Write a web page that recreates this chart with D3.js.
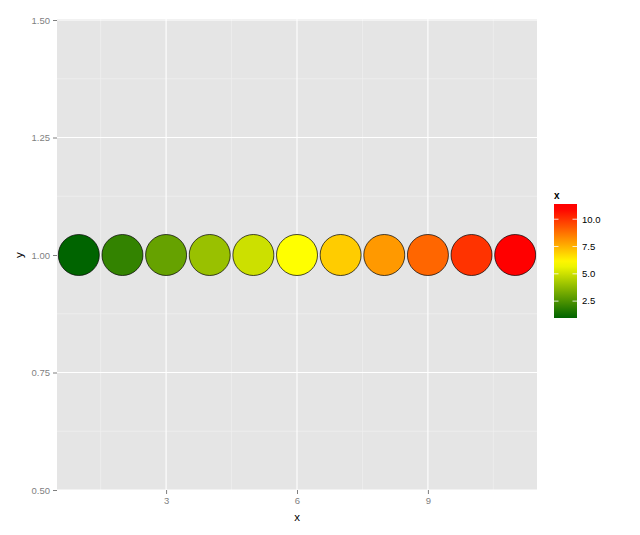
<!DOCTYPE html>
<html><head><meta charset="utf-8">
<script src="https://cdn.jsdelivr.net/npm/d3@7"></script>
<style>body{margin:0;background:#fff;} text{font-family:"Liberation Sans",Arial,sans-serif;}</style>
</head><body>
<svg id="chart" width="640" height="535"></svg>
<script>
const xValues = [1,2,3,4,5,6,7,8,9,10,11];
const yValues = [1,1,1,1,1,1,1,1,1,1,1];
const xTicks = [3,6,9];
const yTicks = [0.50,0.75,1.00,1.25,1.50];
const legendTicks = [2.5,5.0,7.5,10.0];
const gradientStops = [1,6,11];
const gradientColors = ["#006400","#ffff00","#ff0000"];

const svg = d3.select("#chart");
const P = {left:57, right:537, top:20, bottom:490};
const x = d3.scaleLinear().domain([0.5,11.5]).range([P.left,P.right]);
const y = d3.scaleLinear().domain([0.5,1.5]).range([P.bottom,P.top]);
const color = d3.scaleLinear().domain(gradientStops).range(gradientColors).interpolate(d3.interpolateRgb);

svg.append("rect").attr("x",P.left).attr("y",P.top-1).attr("width",P.right-P.left).attr("height",P.bottom-P.top+1).attr("fill","#e5e5e5");

const xMinor = [1.5,4.5,7.5,10.5];
const yMinor = [0.625,0.875,1.125,1.375];
svg.append("g").selectAll("line").data(xMinor).join("line")
  .attr("x1",d=>x(d)).attr("x2",d=>x(d)).attr("y1",P.top-1).attr("y2",P.bottom)
  .attr("stroke","#f2f2f2").attr("stroke-width",0.6);
svg.append("g").selectAll("line").data(yMinor).join("line")
  .attr("y1",d=>y(d)).attr("y2",d=>y(d)).attr("x1",P.left).attr("x2",P.right)
  .attr("stroke","#f2f2f2").attr("stroke-width",0.6);
svg.append("g").selectAll("line").data(xTicks).join("line")
  .attr("x1",d=>x(d)).attr("x2",d=>x(d)).attr("y1",P.top-1).attr("y2",P.bottom)
  .attr("stroke","#ffffff").attr("stroke-width",1.1);
svg.append("g").selectAll("line").data(yTicks).join("line")
  .attr("y1",d=>y(d)).attr("y2",d=>y(d)).attr("x1",P.left).attr("x2",P.right)
  .attr("stroke","#ffffff").attr("stroke-width",1.1);

// axes
const xAxis = d3.axisBottom(x).tickValues(xTicks).tickSize(4).tickPadding(3).tickFormat(d3.format("d"));
const gx = svg.append("g").attr("transform",`translate(0,${P.bottom})`).call(xAxis);
const yAxis = d3.axisLeft(y).tickValues(yTicks).tickSize(4).tickPadding(3).tickFormat(d3.format(".2f"));
const gy = svg.append("g").attr("transform",`translate(${P.left},0)`).call(yAxis);
[gx,gy].forEach(g=>{
  g.select(".domain").remove();
  g.selectAll(".tick line").attr("stroke","#7f7f7f");
  g.selectAll(".tick text").attr("fill","#7f7f7f").style("font-size","9.5px");
});

// points
svg.append("g").selectAll("circle").data(xValues).join("circle")
  .attr("cx",d=>x(d)).attr("cy",(d,i)=>y(yValues[i])).attr("r",20.5)
  .attr("fill",d=>color(d)).attr("stroke","#000").attr("stroke-width",0.7);

// axis titles
svg.append("text").attr("x",(P.left+P.right)/2).attr("y",521).attr("text-anchor","middle")
  .style("font-size","11.5px").attr("fill","#000").text("x");
svg.append("text").attr("transform",`translate(23,${y(1)}) rotate(-90)`).attr("text-anchor","middle")
  .style("font-size","11.5px").attr("fill","#000").text("y");

// legend
const L = {x:554, w:23, top:204, bottom:318};
const ly = d3.scaleLinear().domain([1,11]).range([L.bottom-0.5, 208.3]);
const defs = svg.append("defs");
const grad = defs.append("linearGradient").attr("id","lg").attr("x1","0").attr("y1","1").attr("x2","0").attr("y2","0");
const nStops = 20;
d3.range(nStops+1).forEach(i=>{
  const pos = L.bottom - i*(L.bottom-L.top)/nStops;
  const v = ly.invert(pos);
  grad.append("stop").attr("offset",(i/nStops*100)+"%").attr("stop-color",color(Math.max(1,Math.min(11,v))));
});
svg.append("rect").attr("x",L.x).attr("y",L.top).attr("width",L.w).attr("height",L.bottom-L.top).attr("fill","url(#lg)");
svg.append("text").attr("x",L.x).attr("y",L.top-5).style("font-size","10px").style("font-weight","bold").text("x");
const lt = svg.append("g");
lt.selectAll("line.l").data(legendTicks).join("line").attr("class","l")
  .attr("x1",L.x).attr("x2",L.x+4.5).attr("y1",d=>ly(d)).attr("y2",d=>ly(d)).attr("stroke","#fff").attr("stroke-width",0.8);
lt.selectAll("line.r").data(legendTicks).join("line").attr("class","r")
  .attr("x1",L.x+L.w-4.5).attr("x2",L.x+L.w).attr("y1",d=>ly(d)).attr("y2",d=>ly(d)).attr("stroke","#fff").attr("stroke-width",0.8);
lt.selectAll("text").data(legendTicks).join("text")
  .attr("x",L.x+L.w+5).attr("y",d=>ly(d)).attr("dy","0.35em")
  .style("font-size","9.5px").attr("fill","#000").text(d=>d3.format(".1f")(d));
</script>
</body></html>
